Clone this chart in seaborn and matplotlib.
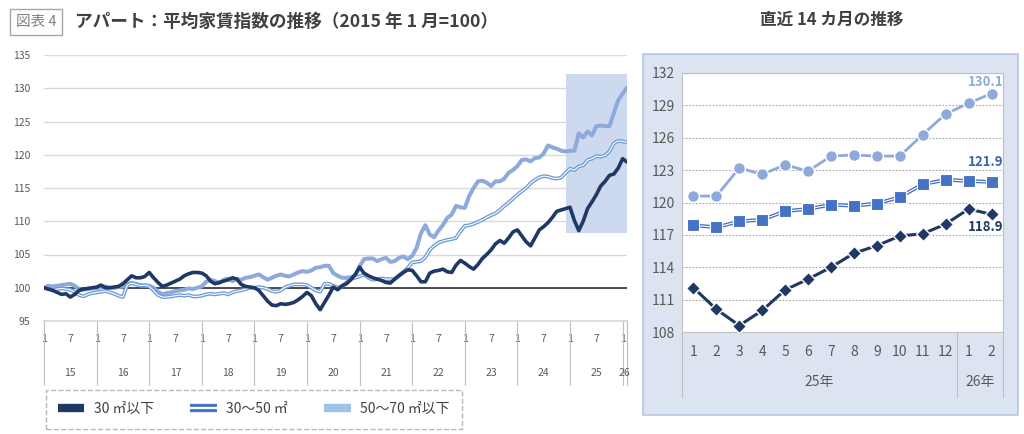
import numpy as np
import matplotlib
matplotlib.use("Agg")
import matplotlib.pyplot as plt
import matplotlib.transforms as mtrans
import matplotlib.patheffects as pe
from matplotlib.lines import Line2D
from matplotlib.patches import Rectangle
import seaborn as sns

sns.set_theme(style="white")
plt.rcParams['font.family'] = ['Noto Sans CJK JP', 'DejaVu Sans']

# ---------------- data (monthly index, 2015-01 = 100, through 2026-02) ----------------
small = [  # 30㎡以下
    100.0, 99.8, 99.6, 99.3, 99.0, 99.1, 98.6, 99.0, 99.6, 99.8, 99.9, 100.0,
    100.1, 100.4, 100.0, 100.0, 100.1, 100.2, 100.6, 101.2, 101.8, 101.5, 101.5, 101.7,
    102.3, 101.5, 100.8, 100.2, 100.4, 100.7, 101.0, 101.3, 101.8, 102.1, 102.3, 102.3,
    102.2, 101.8, 101.0, 100.6, 100.8, 101.0, 101.2, 101.5, 101.3, 100.5, 100.2, 100.1,
    100.0, 99.6, 98.8, 98.0, 97.4, 97.3, 97.6, 97.5, 97.6, 97.8, 98.2, 98.7,
    99.3, 98.8, 97.6, 96.7, 97.8, 98.9, 100.1, 99.7, 100.3, 100.6, 101.2, 102.0,
    103.1, 102.2, 101.8, 101.5, 101.3, 101.1, 100.8, 100.7, 101.3, 101.8, 102.3, 102.7,
    102.6, 101.8, 100.9, 100.9, 102.2, 102.5, 102.6, 102.8, 102.4, 102.3, 103.4, 104.1,
    103.7, 103.2, 102.8, 103.5, 104.4, 105.0, 105.7, 106.6, 107.1, 106.7, 107.5, 108.4,
    108.7, 107.8, 106.9, 106.3, 107.5, 108.7, 109.2, 109.8, 110.6, 111.5, 111.7, 111.9,
    112.1, 110.1, 108.6, 110.0, 111.9, 112.9, 114.0, 115.3, 116.0, 116.9, 117.1, 118.0,
    119.4, 118.9,
]
mid = [  # 30〜50㎡
    100.0, 99.8, 99.7, 99.8, 99.9, 99.8, 99.7, 99.4, 98.9, 98.7, 99.0, 99.2,
    99.3, 99.4, 99.5, 99.3, 99.1, 98.8, 98.6, 100.4, 100.7, 100.5, 100.3, 100.4,
    100.2, 99.6, 98.9, 98.6, 98.6, 98.7, 98.8, 98.9, 98.8, 98.9, 98.7, 98.7,
    98.8, 99.0, 99.1, 99.0, 99.1, 99.2, 99.0, 99.3, 99.5, 99.6, 99.8, 100.0,
    100.0, 100.1, 100.0, 99.8, 99.5, 99.4, 99.6, 100.1, 100.3, 100.5, 100.5, 100.5,
    100.4, 100.0, 99.6, 99.4, 100.6, 100.6, 100.3, 100.0, 100.2, 100.8, 101.4, 101.5,
    101.7, 102.0, 101.5, 101.2, 101.3, 101.4, 101.3, 101.3, 101.3, 101.9, 102.4, 103.0,
    103.8, 103.9, 104.0, 104.6, 105.7, 106.3, 106.8, 107.0, 107.2, 107.3, 107.5, 108.5,
    109.3, 109.4, 109.6, 109.9, 110.2, 110.6, 110.9, 111.2, 111.7, 112.3, 112.8, 113.4,
    114.0, 114.5, 115.0, 115.7, 116.2, 116.6, 116.8, 116.7, 116.5, 116.4, 116.6, 117.3,
    117.9, 117.7, 118.25, 118.4, 119.2, 119.4, 119.8, 119.7, 119.9, 120.5, 121.7, 122.1,
    122.0, 121.9,
]
large = [  # 50〜70㎡以下
    100.0, 100.3, 100.2, 100.3, 100.4, 100.5, 100.6, 100.3, 99.8, 99.7, 99.8, 99.9,
    99.9, 100.1, 100.2, 100.0, 100.0, 100.1, 100.2, 100.6, 100.7, 100.6, 100.4, 100.3,
    100.3, 100.0, 99.4, 99.0, 99.2, 99.3, 99.5, 99.6, 99.7, 99.9, 99.8, 100.0,
    100.2, 100.9, 101.2, 101.0, 100.7, 101.2, 101.4, 101.0, 101.3, 101.2, 101.5, 101.6,
    101.8, 102.0, 101.6, 101.2, 101.5, 101.8, 102.0, 101.8, 101.7, 102.0, 102.3, 102.5,
    102.4, 102.6, 103.0, 103.1, 103.3, 103.3, 102.2, 101.8, 101.5, 101.5, 101.6, 101.8,
    103.2, 104.3, 104.4, 104.4, 104.0, 104.3, 104.5, 103.9, 104.0, 104.5, 104.7, 104.3,
    104.8, 106.0, 108.2, 109.4, 108.0, 107.6, 108.6, 109.4, 110.5, 111.0, 112.3, 112.1,
    112.0, 113.8, 115.0, 116.0, 116.1, 115.8, 115.3, 116.0, 116.0, 116.4, 117.3, 117.7,
    118.3, 119.2, 119.3, 119.0, 119.5, 119.6, 120.2, 121.4, 121.1, 120.9, 120.6, 120.5,
    120.6, 120.6, 123.2, 122.6, 123.5, 122.9, 124.3, 124.4, 124.3, 124.3, 126.3, 128.2,
    129.2, 130.1,
]
years = ["15", "16", "17", "18", "19", "20", "21", "22", "23", "24", "25", "26"]
recent_months = ["1", "2", "3", "4", "5", "6", "7", "8", "9", "10", "11", "12", "1", "2"]
recent_years = ["25年", "26年"]
labels = ["30 ㎡以下", "30〜50 ㎡", "50〜70 ㎡以下"]

C_DARK = "#1F3864"
C_MID = "#6E9BD6"
C_MID2 = "#4472C4"
C_LIGHT = "#8EA9DB"
C_LEG_LIGHT = "#9DC3E6"
GRAY_TXT = "#595959"

W, H = 1024, 434
fig = plt.figure(figsize=(W / 100, H / 100), dpi=100)
fig.patch.set_facecolor("white")

# ---------------- left panel ----------------
ax = fig.add_axes([44 / W, 1 - 321 / H, 583 / W, 266 / H])
n = len(small)
x = np.arange(n)
ax.add_patch(Rectangle((n - 15, 108.2), 14, 23.9, facecolor="#CDD9EF", edgecolor="none", zorder=1))
ax.axhline(100, color="#404040", lw=1.3, zorder=2)
sns.lineplot(x=x, y=large, ax=ax, color=C_LIGHT, lw=2.9, zorder=3)
sns.lineplot(x=x, y=mid, ax=ax, color=C_MID, lw=2.7, zorder=4)
sns.lineplot(x=x, y=mid, ax=ax, color="white", lw=0.8, zorder=5)
sns.lineplot(x=x, y=small, ax=ax, color=C_DARK, lw=2.6, zorder=6)
ax.set_xlim(0, n - 1)
ax.set_ylim(95, 135)
ax.set_yticks(range(95, 136, 5))
ax.grid(axis="y", color="#D9D9D9", lw=1.0, zorder=0)
ax.set_axisbelow(True)
for s in ["left", "right", "top"]:
    ax.spines[s].set_visible(False)
ax.spines["bottom"].set_color("#D9D9D9")
ax.tick_params(axis="y", length=0, pad=10, labelsize=7.5, labelcolor=GRAY_TXT)
mt = list(range(0, n, 6))
ax.set_xticks(mt)
ax.set_xticklabels(["1" if i % 12 == 0 else "7" for i in mt])
ax.tick_params(axis="x", length=0, pad=9, labelsize=7.5, labelcolor=GRAY_TXT)
ax.set_xlabel("")
ax.set_ylabel("")
tr = mtrans.blended_transform_factory(ax.transData, ax.transAxes)
bounds = list(range(0, n, 12)) + [n - 1]
for b in bounds:
    ax.plot([b, b], [0, -0.24], transform=tr, color="#BFBFBF", lw=0.8, clip_on=False)
for k, yl in enumerate(years):
    a = 12 * k
    bnd = min(a + 12, n - 1)
    ax.text((a + bnd) / 2, -0.195, yl, transform=tr, ha="center", va="center",
            fontsize=7.5, color=GRAY_TXT)

# titles
fig.text(16 / W, 1 - 22 / H, "図表 4", fontsize=10.5, color="#808080", va="center", ha="left",
         bbox=dict(boxstyle="square,pad=0.4", fc="white", ec="#A6A6A6", lw=1))
fig.text(75 / W, 1 - 22 / H, "アパート：平均家賃指数の推移（2015 年 1 月=100）", fontsize=12.7,
         weight="bold", color="#404040", va="center", ha="left")
fig.text(832 / W, 1 - 20 / H, "直近 14 カ月の推移", fontsize=12, weight="bold",
         color="#404040", va="center", ha="center")

# legend
h_dark = Line2D([], [], color=C_DARK, lw=6, solid_capstyle="butt")
h_mid = Line2D([], [], color="white", lw=1.6, solid_capstyle="butt",
               path_effects=[pe.Stroke(linewidth=6, foreground=C_MID2, capstyle="butt"), pe.Normal()])
h_light = Line2D([], [], color=C_LEG_LIGHT, lw=6, solid_capstyle="butt")
leg = fig.legend([h_dark, h_mid, h_light], labels, loc="center",
                 bbox_to_anchor=(254 / W, 1 - 409 / H), ncol=3, frameon=True,
                 fontsize=10, handlelength=1.9, columnspacing=2.6, handletextpad=0.7,
                 fancybox=False, borderpad=0.9, edgecolor="#A6A6A6")
leg.get_frame().set_linestyle("--")
leg.get_frame().set_linewidth(1.0)
for t in leg.get_texts():
    t.set_color("#404040")

# ---------------- right panel ----------------
fig.patches.append(Rectangle((643 / W, 1 - 415 / H), 375 / W, 361 / H, transform=fig.transFigure,
                             facecolor="#DCE4F2", edgecolor="#B4C7E7", lw=1.2, zorder=-5))
ax2 = fig.add_axes([682 / W, 1 - 332 / H, 321 / W, 259 / H])
ax2.set_zorder(3)
ax2.set_facecolor("white")
m = len(recent_months)
xr = np.arange(m)
r_small = small[-m:]
r_mid = mid[-m:]
r_large = large[-m:]
sns.lineplot(x=xr, y=r_large, ax=ax2, color=C_LIGHT, lw=2.0, marker="o", markersize=8.5,
             markeredgecolor="white", markeredgewidth=1.0, zorder=3)
sns.lineplot(x=xr, y=r_mid, ax=ax2, color=C_MID2, lw=2.7, zorder=4)
sns.lineplot(x=xr, y=r_mid, ax=ax2, color="white", lw=0.8, zorder=5)
sns.scatterplot(x=xr, y=r_mid, ax=ax2, color=C_MID2, marker="s", s=66,
                edgecolor="white", linewidth=0.8, zorder=6)
sns.lineplot(x=xr, y=r_small, ax=ax2, color=C_DARK, lw=2.2, marker="D", markersize=7.2,
             markeredgecolor="white", markeredgewidth=1.0, zorder=7)
ax2.set_xlim(-0.5, m - 0.5)
ax2.set_ylim(108, 132)
ax2.set_yticks(range(108, 133, 3))
ax2.grid(axis="y", color="#A6A6A6", lw=0.8, ls=(0, (1.5, 1.5)), zorder=0)
ax2.set_axisbelow(True)
for s in ax2.spines.values():
    s.set_color("#BFBFBF")
    s.set_linewidth(0.8)
ax2.tick_params(axis="y", length=0, pad=5, labelsize=10, labelcolor=GRAY_TXT)
ax2.set_xticks(xr)
ax2.set_xticklabels(recent_months)
ax2.tick_params(axis="x", length=0, pad=9, labelsize=10, labelcolor=GRAY_TXT)
ax2.set_xlabel("")
ax2.set_ylabel("")
tr2 = mtrans.blended_transform_factory(ax2.transData, ax2.transAxes)
for b in [-0.5, 11.5, m - 0.5]:
    ax2.plot([b, b], [0, -0.25], transform=tr2, color="#BFBFBF", lw=0.8, clip_on=False)
ax2.text(5.5, -0.193, recent_years[0], transform=tr2, ha="center", va="center", fontsize=10, color=GRAY_TXT)
ax2.text(12.5, -0.193, recent_years[1], transform=tr2, ha="center", va="center", fontsize=10, color=GRAY_TXT)

ax2.annotate(f"{r_large[-1]:.1f}", xy=(m - 1, r_large[-1]), xytext=(-4, 8.5), textcoords="offset points",
             ha="center", va="center", fontsize=9.5, weight="bold", color=C_LIGHT)
ax2.annotate(f"{r_mid[-1]:.1f}", xy=(m - 1, r_mid[-1]), xytext=(-4, 14.5), textcoords="offset points",
             ha="center", va="center", fontsize=9.5, weight="bold", color="#3B64AD")
ax2.annotate(f"{r_small[-1]:.1f}", xy=(m - 1, r_small[-1]), xytext=(-4, -9), textcoords="offset points",
             ha="center", va="center", fontsize=9.5, weight="bold", color=C_DARK)

fig.savefig("out.png", dpi=100)
